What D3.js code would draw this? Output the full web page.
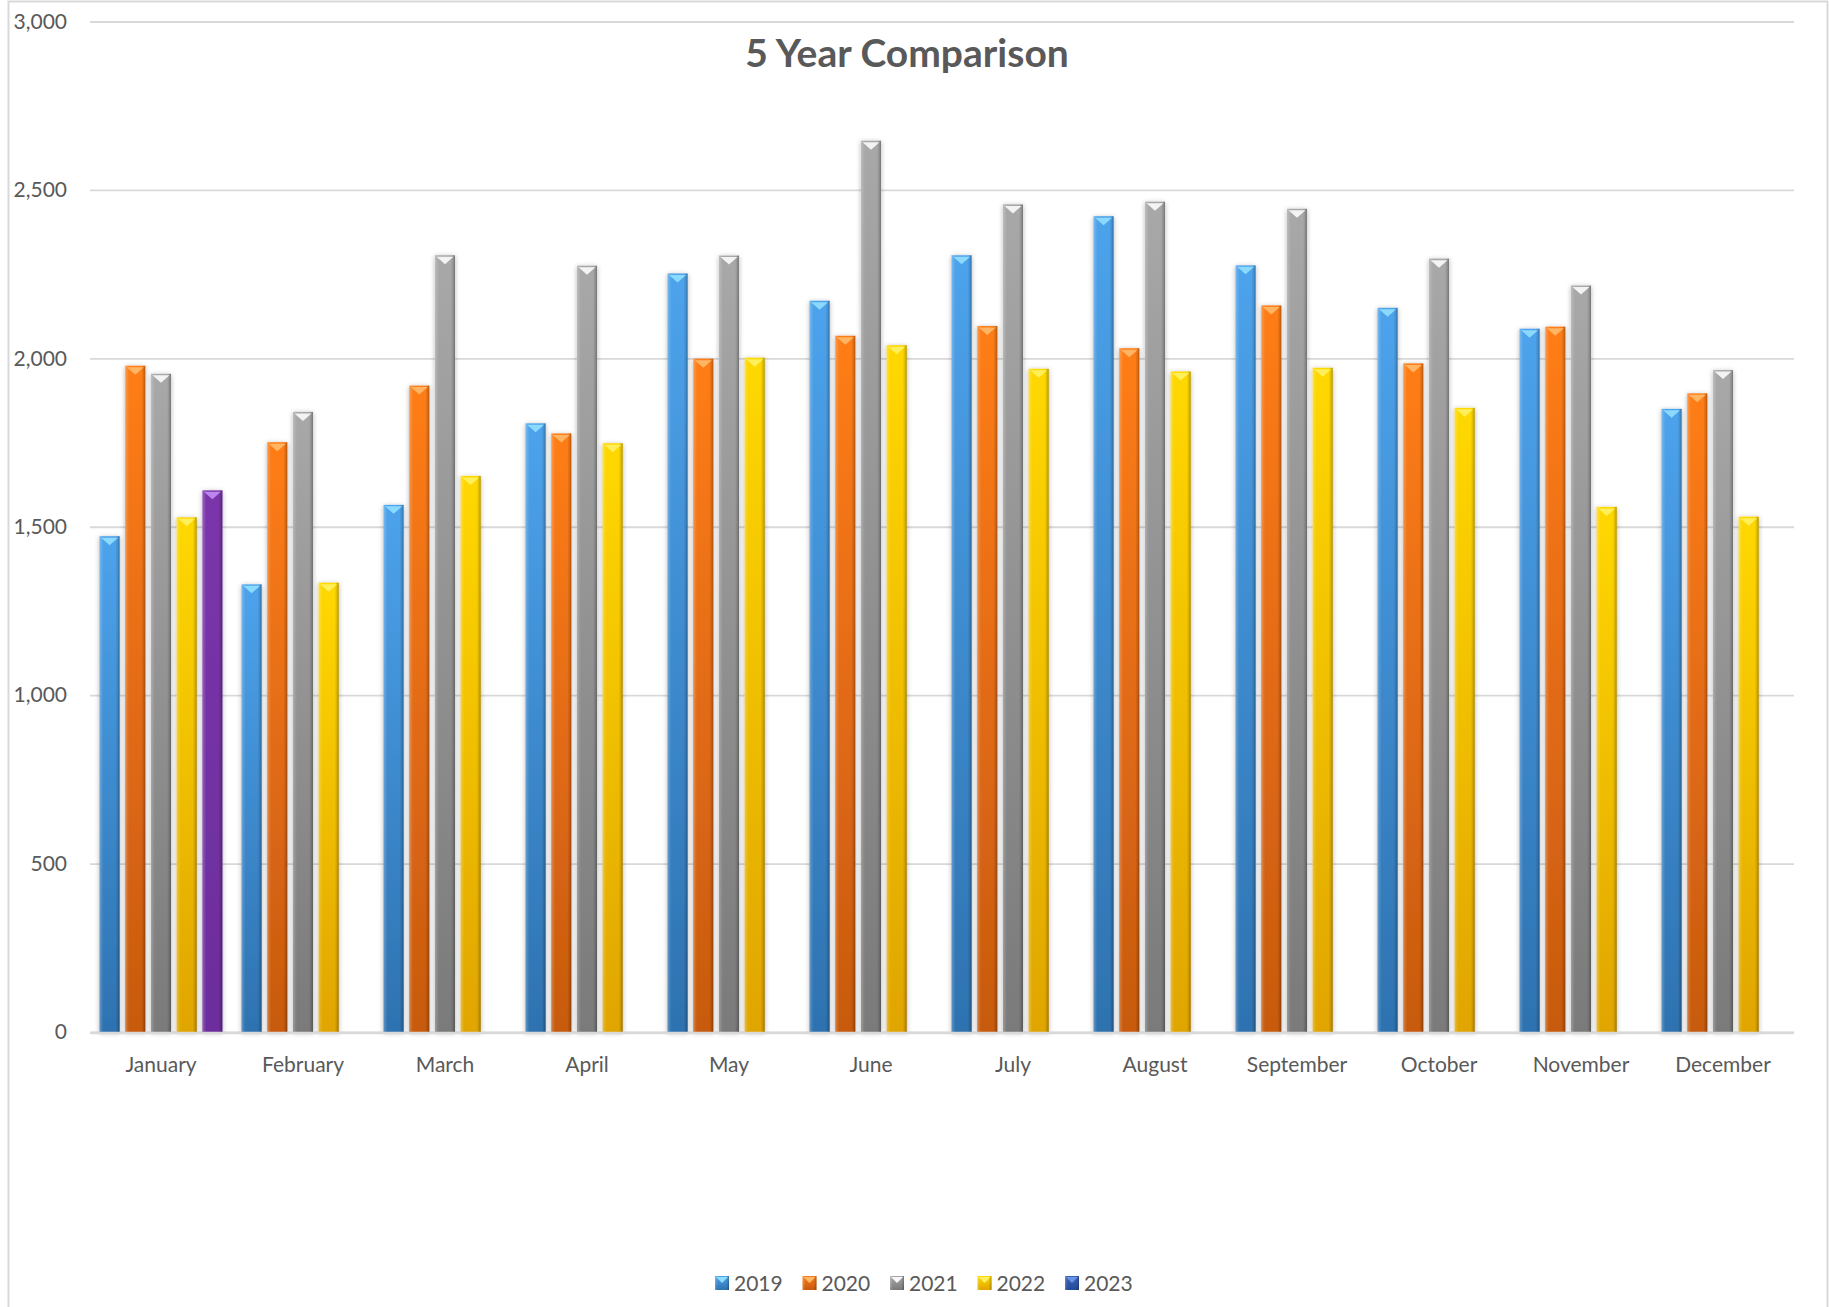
<!DOCTYPE html>
<html>
<head>
<meta charset="utf-8">
<script src="https://cdn.jsdelivr.net/npm/d3@7"></script>
<style>
  body { margin: 0; background: #fff; }
  svg { display: block; font-family: Lato, "Open Sans", sans-serif; }
  .tick text { fill: #595959; font-size: 21px; font-family: Lato, "Open Sans", sans-serif; }
</style>
</head>
<body>
<svg id="chart" width="1829" height="1307"></svg>
<script>
// data
const months = ["January", "February", "March", "April", "May", "June", "July", "August", "September", "October", "November", "December"]
const years = ["2019", "2020", "2021", "2022", "2023"]
const v2019 = [1472, 1329, 1565, 1807, 2252, 2171, 2306, 2422, 2276, 2150, 2088, 1850]
const v2020 = [1978, 1751, 1919, 1777, 1999, 2067, 2096, 2030, 2157, 1985, 2094, 1896]
const v2021 = [1954, 1841, 2306, 2275, 2305, 2646, 2457, 2465, 2444, 2296, 2216, 1965]
const v2022 = [1528, 1334, 1651, 1748, 2002, 2039, 1969, 1961, 1972, 1853, 1559, 1530]
const v2023 = [1608, null, null, null, null, null, null, null, null, null, null, null]
const yTicks = [0, 500, 1000, 1500, 2000, 2500, 3000]

const seriesValues = [v2019, v2020, v2021, v2022, v2023]

// [top, bottom, cap] colours per series
const palette = {
    "2019": ["#4da3ec", "#2e72b0", "#8fdcff"],
    "2020": ["#ff7d18", "#c75a10", "#ffb868"],
    "2021": ["#a8a8a8", "#7a7a7a", "#f7f7f7"],
    "2022": ["#ffd800", "#e0a500", "#fff060"],
    "2023": ["#3b63b8", "#244a96", "#6a93e6"],
    "purple": ["#7a36aa", "#6c2d9c", "#c08af0"]
}

const plotLeft = 90, plotRight = 1794, plotTop = 21.5, plotBottom = 1032

const svg = d3.select("#chart")
const defs = svg.append("defs")

// frame
svg.append("rect")
    .attr("x", 8.5).attr("y", 1.5)
    .attr("width", 1819).attr("height", 1340)
    .attr("fill", "#fff")
    .attr("stroke", "#d9d9d9").attr("stroke-width", 2)

// gradients
function buildGradient(id, c) {
    const g = defs.append("linearGradient").attr("id", id)
        .attr("x1", 0).attr("y1", 0).attr("x2", 0).attr("y2", 1)
    g.append("stop").attr("offset", "0%").attr("stop-color", c[0])
    g.append("stop").attr("offset", "100%").attr("stop-color", c[1])
}
Object.keys(palette).forEach(k => buildGradient("grad-" + k, palette[k]))

// side bevel: light on the left edge, dark on the right edge
const bevel = defs.append("linearGradient").attr("id", "bevel")
bevel.selectAll("stop")
    .data([
        { o: "0%", c: "#fff", a: 0.25 },
        { o: "12%", c: "#fff", a: 0.08 },
        { o: "20%", c: "#fff", a: 0 },
        { o: "80%", c: "#000", a: 0 },
        { o: "90%", c: "#000", a: 0.12 },
        { o: "100%", c: "#000", a: 0.3 }
    ])
    .enter().append("stop")
    .attr("offset", d => d.o)
    .attr("stop-color", d => d.c)
    .attr("stop-opacity", d => d.a)

const shadow = defs.append("filter").attr("id", "shadow")
    .attr("x", "-50%").attr("y", "-5%").attr("width", "200%").attr("height", "110%")
shadow.append("feDropShadow")
    .attr("dx", 0).attr("dy", 1).attr("stdDeviation", 2.5)
    .attr("flood-color", "#000").attr("flood-opacity", 0.3)

// scales
const x0 = d3.scaleBand().domain(months).range([plotLeft, plotRight]).paddingInner(0.095).paddingOuter(0.0475)
const x1 = d3.scaleBand().domain(years).range([0, x0.bandwidth()]).paddingInner(0.22).paddingOuter(0.11)
const y = d3.scaleLinear().domain([0, 3000]).range([plotBottom, plotTop])

// gridlines + y labels
const yAxis = svg.append("g")
    .attr("transform", `translate(${plotLeft},0)`)
    .call(d3.axisLeft(y).tickValues(yTicks).tickFormat(d3.format(",")).tickSize(-(plotRight - plotLeft)).tickPadding(23))
    .attr("font-family", null).attr("font-size", null)
yAxis.select(".domain").remove()
yAxis.selectAll(".tick line").attr("stroke", "#d9d9d9").attr("stroke-width", 1.8)

// x labels
const xAxis = svg.append("g")
    .attr("transform", `translate(0,${plotBottom + 1})`)
    .call(d3.axisBottom(x0).tickSize(0).tickPadding(24))
    .attr("font-family", null).attr("font-size", null)
xAxis.select(".domain").remove()

// bars
const barData = []
months.forEach((m, i) => {
    years.forEach((yr, s) => {
        const v = seriesValues[s][i]
        if (v == null) return
        barData.push({ month: m, year: yr, value: v, key: yr === "2023" ? "purple" : yr })
    })
})

const bw = x1.bandwidth()
const bars = svg.append("g").selectAll("g")
    .data(barData).enter().append("g")
    .attr("transform", d => `translate(${x0(d.month) + x1(d.year)},0)`)

bars.append("rect")
    .attr("y", d => y(d.value))
    .attr("width", bw)
    .attr("height", d => y(0) - y(d.value))
    .attr("fill", d => `url(#grad-${d.key})`)
    .attr("filter", "url(#shadow)")

bars.append("rect")
    .attr("y", d => y(d.value))
    .attr("width", bw)
    .attr("height", d => y(0) - y(d.value))
    .attr("fill", "url(#bevel)")

bars.append("path")
    .attr("d", d => `M1.5,${y(d.value) + 1.5} L${bw - 1.5},${y(d.value) + 1.5} L${bw / 2},${y(d.value) + 9} Z`)
    .attr("fill", d => palette[d.key][2])
    .attr("opacity", 0.95)

// baseline
svg.append("line")
    .attr("x1", plotLeft).attr("x2", plotRight)
    .attr("y1", plotBottom + 1).attr("y2", plotBottom + 1)
    .attr("stroke", "#d9d9d9").attr("stroke-width", 2.5)

// title
svg.append("text")
    .attr("x", 907).attr("y", 67)
    .attr("text-anchor", "middle")
    .attr("font-size", 39).attr("font-weight", "bold")
    .attr("fill", "#595959")
    .text("5 Year Comparison")

// legend
const legend = svg.append("g").selectAll("g")
    .data(years).enter().append("g")
    .attr("transform", (d, i) => `translate(${715 + i * 87.5},1276)`)

legend.append("rect")
    .attr("width", 14).attr("height", 14)
    .attr("fill", d => `url(#grad-${d})`)
legend.append("rect")
    .attr("width", 14).attr("height", 14)
    .attr("fill", "url(#bevel)")
legend.append("path")
    .attr("d", "M1,1 L13,1 L7,7 Z")
    .attr("fill", d => palette[d][2])
legend.append("text")
    .attr("x", 19).attr("y", 14.5)
    .attr("font-size", 21)
    .attr("fill", "#595959")
    .text(d => d)
</script>
</body>
</html>
